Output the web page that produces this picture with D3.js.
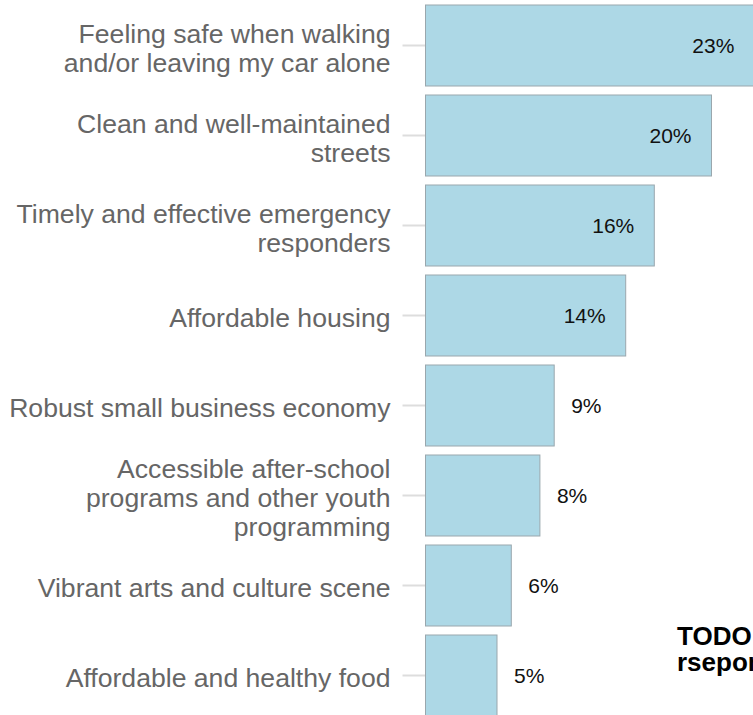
<!DOCTYPE html>
<html>
<head>
<meta charset="utf-8">
<script src="https://cdn.jsdelivr.net/npm/d3@7"></script>
<style>
  html, body { margin: 0; padding: 0; background: #fff; overflow: hidden; }
  svg { display: block; font-family: "Liberation Sans", Arial, Helvetica, sans-serif; }
</style>
</head>
<body>
<svg id="chart" width="753" height="715"></svg>
<script>
// Survey priorities, share of respondents (%)
const categories = [
  "Feeling safe when walking and/or leaving my car alone",
  "Clean and well-maintained streets",
  "Timely and effective emergency responders",
  "Affordable housing",
  "Robust small business economy",
  "Accessible after-school programs and other youth programming",
  "Vibrant arts and culture scene",
  "Affordable and healthy food"
];
const values = [23, 20, 16, 14, 9, 8, 6, 5];

// Wrapped lines for the category labels
const labelLines = [
  ["Feeling safe when walking", "and/or leaving my car alone"],
  ["Clean and well-maintained", "streets"],
  ["Timely and effective emergency", "responders"],
  ["Affordable housing"],
  ["Robust small business economy"],
  ["Accessible after-school", "programs and other youth", "programming"],
  ["Vibrant arts and culture scene"],
  ["Affordable and healthy food"]
];

const noteLines = ["TODO:", "rseponses"];

const rows = categories.map((c, i) => ({ category: c, value: values[i], lines: labelLines[i] }));

const svg = d3.select("#chart");

const x = d3.scaleLinear().domain([0, 23]).range([425.5, 425.5 + 23 * 14.3]);
const y = d3.scaleBand().domain(categories).range([0.5, 720.5]).paddingInner(0.1).paddingOuter(0.05);

// Category axis with short ticks and wrapped labels
const axis = d3.axisLeft(y).tickSize(23).tickPadding(10).tickFormat("");
const gAxis = svg.append("g")
  .attr("transform", `translate(${x(0)},0)`)
  .call(axis);
gAxis.select(".domain").remove();
gAxis.selectAll(".tick line").attr("stroke", "#ddd").attr("stroke-width", 2);

const lineH = 29;
gAxis.selectAll(".tick").each(function(d) {
  const row = rows.find(r => r.category === d);
  const t = d3.select(this).append("text")
    .attr("x", -35)
    .attr("text-anchor", "end")
    .attr("fill", "#666")
    .style("font-size", "26.6px");
  const n = row.lines.length;
  row.lines.forEach((ln, k) => {
    t.append("tspan")
      .attr("x", -35)
      .attr("y", (k - (n - 1) / 2) * lineH)
      .attr("dy", "0.44em")
      .text(ln);
  });
});

// Bars
svg.append("g").selectAll("rect")
  .data(rows)
  .join("rect")
  .attr("x", x(0))
  .attr("y", d => y(d.category))
  .attr("width", d => x(d.value) - x(0))
  .attr("height", y.bandwidth())
  .attr("fill", "#add8e6")
  .attr("stroke", "#9aa7ad")
  .attr("stroke-width", 1);

// Value labels: inside the long bars, just past the end of the short ones
const fmt = d => d3.format("d")(d) + "%";
svg.append("g").selectAll("text")
  .data(rows)
  .join("text")
  .attr("x", d => d.value > 10 ? x(d.value) - 20 : x(d.value) + 17)
  .attr("y", d => y(d.category) + y.bandwidth() / 2)
  .attr("dy", "0.35em")
  .attr("text-anchor", d => d.value > 10 ? "end" : "start")
  .attr("fill", "#111")
  .style("font-size", "21px")
  .text(d => fmt(d.value));

// Note in the lower right
svg.append("text")
  .attr("x", 677)
  .attr("y", 645)
  .attr("fill", "#000")
  .style("font-size", "26px")
  .style("font-weight", "bold")
  .selectAll("tspan")
  .data(noteLines)
  .join("tspan")
  .attr("x", 677)
  .attr("dy", (d, i) => i === 0 ? 0 : 26)
  .text(d => d);
</script>
</body>
</html>
